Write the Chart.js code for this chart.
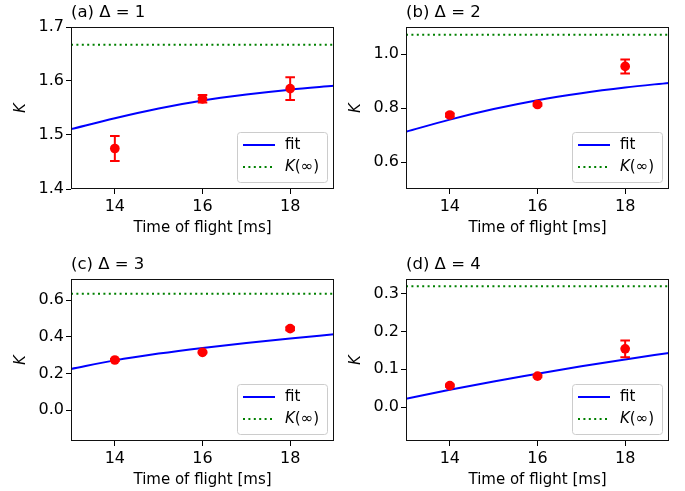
<!DOCTYPE html>
<html>
<head>
<meta charset="utf-8">
<script src="https://cdn.jsdelivr.net/npm/chart.js@4.4.0/dist/chart.umd.min.js"></script>
<style>
  html, body { margin: 0; padding: 0; background: #fff; }
  #fig { position: relative; width: 685px; height: 491px; }
  #fig canvas { position: absolute; left: 0; top: 0; }
</style>
</head>
<body>
<div id="fig">
  <canvas id="pa" width="685" height="491"></canvas>
  <canvas id="pb" width="685" height="491"></canvas>
  <canvas id="pc" width="685" height="491"></canvas>
  <canvas id="pd" width="685" height="491"></canvas>
</div>
<script>
// shared x values
const timeRange = [13, 19];
const timeTicks = [14, 16, 18];
const fitTimes = [13, 14, 15, 16, 17, 18, 19];
const measTimes = [14, 16, 18];

// (a) Delta = 1
const kMeasA = [1.475, 1.567, 1.586];
const kErrA = [0.023, 0.007, 0.021];
const kFitA = [1.511, 1.531, 1.549, 1.564, 1.575, 1.584, 1.591];
const kInfA = 1.667;
const yTicksA = [1.4, 1.5, 1.6, 1.7];

// (b) Delta = 2
const kMeasB = [0.774, 0.813, 0.954];
const kErrB = [0.006, 0.005, 0.026];
const kFitB = [0.712, 0.757, 0.796, 0.829, 0.855, 0.876, 0.893];
const kInfB = 1.071;
const yTicksB = [0.6, 0.8, 1.0];

// (c) Delta = 3
const kMeasC = [0.273, 0.315, 0.444];
const kErrC = [0.005, 0.005, 0.008];
const kFitC = [0.224, 0.271, 0.308, 0.339, 0.366, 0.390, 0.413];
const kInfC = 0.634;
const yTicksC = [0.0, 0.2, 0.4, 0.6];

// (d) Delta = 4
const kMeasD = [0.057, 0.082, 0.154];
const kErrD = [0.003, 0.003, 0.022];
const kFitD = [0.022, 0.046, 0.068, 0.088, 0.108, 0.126, 0.143];
const kInfD = 0.319;
const yTicksD = [0.0, 0.1, 0.2, 0.3];

const FONT = "'DejaVu Sans', sans-serif";

// error bars, frame, title and legend inside the axes
const decor = {
  id: 'decor',
  afterDatasetsDraw(chart) {
    const ctx = chart.ctx;
    const ys = chart.scales.y;
    ctx.save();
    chart.data.datasets.forEach((ds, i) => {
      if (!ds.errorBars) return;
      const meta = chart.getDatasetMeta(i);
      ctx.strokeStyle = ds.backgroundColor;
      ctx.lineWidth = 2;
      ds.data.forEach((p, j) => {
        const x = meta.data[j].x;
        const y1 = ys.getPixelForValue(p.y - ds.errorBars[j]);
        const y2 = ys.getPixelForValue(p.y + ds.errorBars[j]);
        ctx.beginPath();
        ctx.moveTo(x, y1); ctx.lineTo(x, y2);
        ctx.moveTo(x - 4.8, y1); ctx.lineTo(x + 4.8, y1);
        ctx.moveTo(x - 4.8, y2); ctx.lineTo(x + 4.8, y2);
        ctx.stroke();
      });
    });
    ctx.restore();
  },
  afterDraw(chart) {
    const ctx = chart.ctx;
    const a = chart.chartArea;
    const o = chart.options.plugins.decor;
    ctx.save();
    // frame
    ctx.strokeStyle = '#111';
    ctx.lineWidth = 1;
    ctx.strokeRect(a.left + 0.5, a.top + 0.5, a.right - a.left - 1, a.bottom - a.top - 1);
    // title
    ctx.fillStyle = '#000';
    ctx.font = '16.5px ' + FONT;
    ctx.textBaseline = 'alphabetic';
    ctx.textAlign = 'left';
    ctx.fillText(o.title, a.left, a.top - 10);
    // legend
    const bw = 90, bh = 50;
    const bx = a.right - 7 - bw, by = a.bottom - 7 - bh;
    ctx.beginPath();
    ctx.roundRect(bx + 0.5, by + 0.5, bw, bh, 3);
    ctx.fillStyle = 'rgba(255,255,255,0.8)';
    ctx.fill();
    ctx.strokeStyle = '#cccccc';
    ctx.stroke();
    const items = chart.data.datasets.filter(d => d.inLegend);
    items.forEach((d, i) => {
      const y = by + 13 + i * 22;
      ctx.beginPath();
      ctx.strokeStyle = d.borderColor;
      ctx.lineWidth = d.borderWidth;
      ctx.setLineDash(d.borderDash || []);
      ctx.moveTo(bx + 6, y);
      ctx.lineTo(bx + 38, y);
      ctx.stroke();
      ctx.setLineDash([]);
      ctx.fillStyle = '#000';
      ctx.textBaseline = 'middle';
      let tx = bx + 48;
      let txt = d.label;
      if (txt.startsWith('K(')) {
        ctx.font = 'italic 15px ' + FONT;
        ctx.fillText('K', tx, y);
        tx += ctx.measureText('K').width;
        txt = txt.slice(1);
      }
      ctx.font = '15px ' + FONT;
      ctx.fillText(txt, tx, y);
    });
    ctx.restore();
  }
};

function makePanel(id, title, area, yRange, yTicks, meas, err, fit, kInf) {
  const yW = 62, xH = 50;
  const [left, top, right, bottom] = area;
  new Chart(document.getElementById(id), {
    type: 'line',
    data: {
      datasets: [
        {
          label: 'data',
          data: measTimes.map((t, i) => ({ x: t, y: meas[i] })),
          errorBars: err,
          showLine: false,
          pointRadius: 4.85,
          pointBackgroundColor: '#ff0000',
          backgroundColor: '#ff0000',
          pointBorderWidth: 0,
          order: 0
        },
        {
          label: 'fit',
          inLegend: true,
          data: fitTimes.map((t, i) => ({ x: t, y: fit[i] })),
          borderColor: '#0000ff',
          borderWidth: 2,
          pointRadius: 0,
          cubicInterpolationMode: 'monotone',
          order: 1
        },
        {
          label: 'K(∞)',
          inLegend: true,
          data: timeRange.map(t => ({ x: t, y: kInf })),
          borderColor: '#008000',
          borderWidth: 2,
          borderDash: [2, 3.4],
          pointRadius: 0,
          order: 2
        }
      ]
    },
    options: {
      responsive: false,
      animation: false,
      layout: { padding: { left: left - yW, top: top, right: 685 - right, bottom: 491 - bottom - xH } },
      plugins: {
        legend: { display: false },
        tooltip: { enabled: false },
        decor: { title: title }
      },
      scales: {
        x: {
          type: 'linear',
          min: timeRange[0],
          max: timeRange[1],
          afterBuildTicks: s => { s.ticks = timeTicks.map(v => ({ value: v })); },
          afterFit: s => { s.height = xH; },
          grid: { display: true, drawOnChartArea: false, drawTicks: true, tickLength: 5, color: '#000', lineWidth: 1 },
          border: { display: false },
          ticks: { color: '#000', font: { family: FONT, size: 16 }, padding: 3, maxRotation: 0, autoSkip: false },
          title: { display: true, text: 'Time of flight [ms]', color: '#000', font: { family: FONT, size: 15 }, padding: { top: 0, bottom: 1.5 } }
        },
        y: {
          type: 'linear',
          min: yRange[0],
          max: yRange[1],
          afterBuildTicks: s => { s.ticks = yTicks.map(v => ({ value: v })); },
          afterFit: s => { s.width = yW; },
          grid: { display: true, drawOnChartArea: false, drawTicks: true, tickLength: 5, color: '#000', lineWidth: 1 },
          border: { display: false },
          ticks: { color: '#000', font: { family: FONT, size: 16 }, padding: 2, callback: v => v.toFixed(1) },
          title: { display: true, text: 'K', color: '#000', font: { family: FONT, size: 15, style: 'italic' }, padding: { top: 3, bottom: 0 } }
        }
      }
    },
    plugins: [decor]
  });
}

makePanel('pa', '(a) Δ = 1', [71, 27, 334, 189], [1.4, 1.7], yTicksA, kMeasA, kErrA, kFitA, kInfA);
makePanel('pb', '(b) Δ = 2', [406, 27, 669, 189], [0.5, 1.1], yTicksB, kMeasB, kErrB, kFitB, kInfB);
makePanel('pc', '(c) Δ = 3', [71, 279, 334, 441], [-0.169, 0.715], yTicksC, kMeasC, kErrC, kFitC, kInfC);
makePanel('pd', '(d) Δ = 4', [406, 279, 669, 441], [-0.089, 0.338], yTicksD, kMeasD, kErrD, kFitD, kInfD);
</script>
</body>
</html>
